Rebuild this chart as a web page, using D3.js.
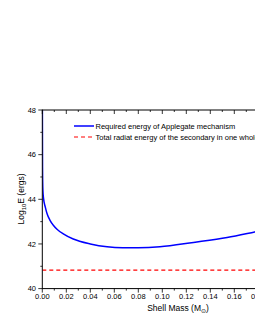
<!DOCTYPE html>
<html><head><meta charset="utf-8">
<script src="https://cdn.jsdelivr.net/npm/d3@7"></script>
<style>body{margin:0;background:#fff;}svg{display:block;font-family:"Liberation Sans",Arial,sans-serif;}</style>
</head><body>
<script>
const shellMass = [0.00005,0.0002,0.0005,0.001,0.0025,0.004,0.0062,0.009,0.0125,0.0175,0.0258,0.04,0.054,0.067,0.08,0.098,0.126,0.154,0.177,0.2,0.22];
const applegateLogE = [48.6,45.4,44.4,44.05,43.65,43.35,43.08,42.85,42.65,42.45,42.22,42.0,41.87,41.83,41.83,41.87,42.07,42.29,42.54,42.8,43.05];
const radiatedLogE = 40.83;
const xTicks = [0,0.02,0.04,0.06,0.08,0.10,0.12,0.14,0.16,0.18];
const yTicks = [40,42,44,46,48];
const legendLabels = ["Required energy of Applegate mechanism","Total radiat energy of the secondary in one whole cycle"];

const W=255,H=330;
const svg=d3.select("body").append("svg").attr("width",W).attr("height",H);
const x=d3.scaleLinear().domain([0,0.22]).range([42.3,306.3]);
const y=d3.scaleLinear().domain([40,48]).range([288.6,110]);

svg.append("defs").append("clipPath").attr("id","clip").append("rect")
  .attr("x",x(0)).attr("y",y(48)).attr("width",x(0.22)-x(0)).attr("height",y(40)-y(48));

const g=svg.append("g").attr("clip-path","url(#clip)");
const data=shellMass.map((m,i)=>[m,applegateLogE[i]]);
g.append("path").datum(data)
  .attr("d",d3.line().x(d=>x(d[0])).y(d=>y(d[1])).curve(d3.curveMonotoneX))
  .attr("fill","none").attr("stroke","#0000ff").attr("stroke-width",1.5);
g.append("line").attr("x1",x(0)).attr("x2",x(0.22)).attr("y1",y(radiatedLogE)).attr("y2",y(radiatedLogE))
  .attr("stroke","#ff0000").attr("stroke-width",1.2).attr("stroke-dasharray","4,3");

// axes
const minorX=d3.range(0,0.2201,0.01);
const minorY=d3.range(40,48.01,1);
const axisG=svg.append("g").attr("stroke","#000");
axisG.append("line").attr("x1",x(0)).attr("x2",x(0.22)).attr("y1",y(40)).attr("y2",y(40)).attr("stroke-width",1);
axisG.append("line").attr("x1",x(0)).attr("x2",x(0.22)).attr("y1",y(48)).attr("y2",y(48)).attr("stroke-width",1);
axisG.append("line").attr("x1",x(0)).attr("x2",x(0)).attr("y1",y(40)+0.5).attr("y2",y(48)-0.5).attr("stroke-width",1);
minorX.forEach((v,i)=>{
  const major=i%2===0, len=major?4:2;
  axisG.append("line").attr("x1",x(v)).attr("x2",x(v)).attr("y1",y(40)).attr("y2",y(40)+len).attr("stroke-width",0.8);
  axisG.append("line").attr("x1",x(v)).attr("x2",x(v)).attr("y1",y(48)).attr("y2",y(48)+len).attr("stroke-width",0.8);
});
minorY.forEach((v,i)=>{
  const major=i%2===0, len=major?4:2;
  axisG.append("line").attr("x1",x(0)-len).attr("x2",x(0)).attr("y1",y(v)).attr("y2",y(v)).attr("stroke-width",0.8);
});
svg.append("g").selectAll("text").data(xTicks).join("text")
  .attr("x",d=>x(d)).attr("y",299).attr("text-anchor","middle").attr("font-size",7.5).text(d=>d.toFixed(2));
svg.append("g").selectAll("text").data(yTicks).join("text")
  .attr("x",36).attr("y",d=>y(d)+2.7).attr("text-anchor","end").attr("font-size",7.5).text(d=>d);

// axis titles
const xt=svg.append("text").attr("x",178).attr("y",311).attr("text-anchor","middle").attr("font-size",8.5);
xt.append("tspan").text("Shell Mass (M");
xt.append("tspan").attr("font-size",6).attr("dy",2).text("\u2299");
xt.append("tspan").attr("dy",-2).text(")");
const yt=svg.append("text").attr("transform","translate(24,199) rotate(-90)").attr("text-anchor","middle").attr("font-size",8.5);
yt.append("tspan").text("Log");
yt.append("tspan").attr("font-size",6).attr("dy",2).text("10");
yt.append("tspan").attr("dy",-2).text("E (ergs)");

// legend
const leg=svg.append("g");
leg.append("line").attr("x1",74).attr("x2",94).attr("y1",126).attr("y2",126).attr("stroke","#0000ff").attr("stroke-width",1.5);
leg.append("line").attr("x1",74).attr("x2",94).attr("y1",137).attr("y2",137).attr("stroke","#ff0000").attr("stroke-width",1.2).attr("stroke-dasharray","4,3");
leg.append("text").attr("x",95.5).attr("y",128.7).attr("font-size",7.5).text(legendLabels[0]);
leg.append("text").attr("x",95.5).attr("y",139.7).attr("font-size",7.5).text(legendLabels[1]);
</script>
</body></html>
